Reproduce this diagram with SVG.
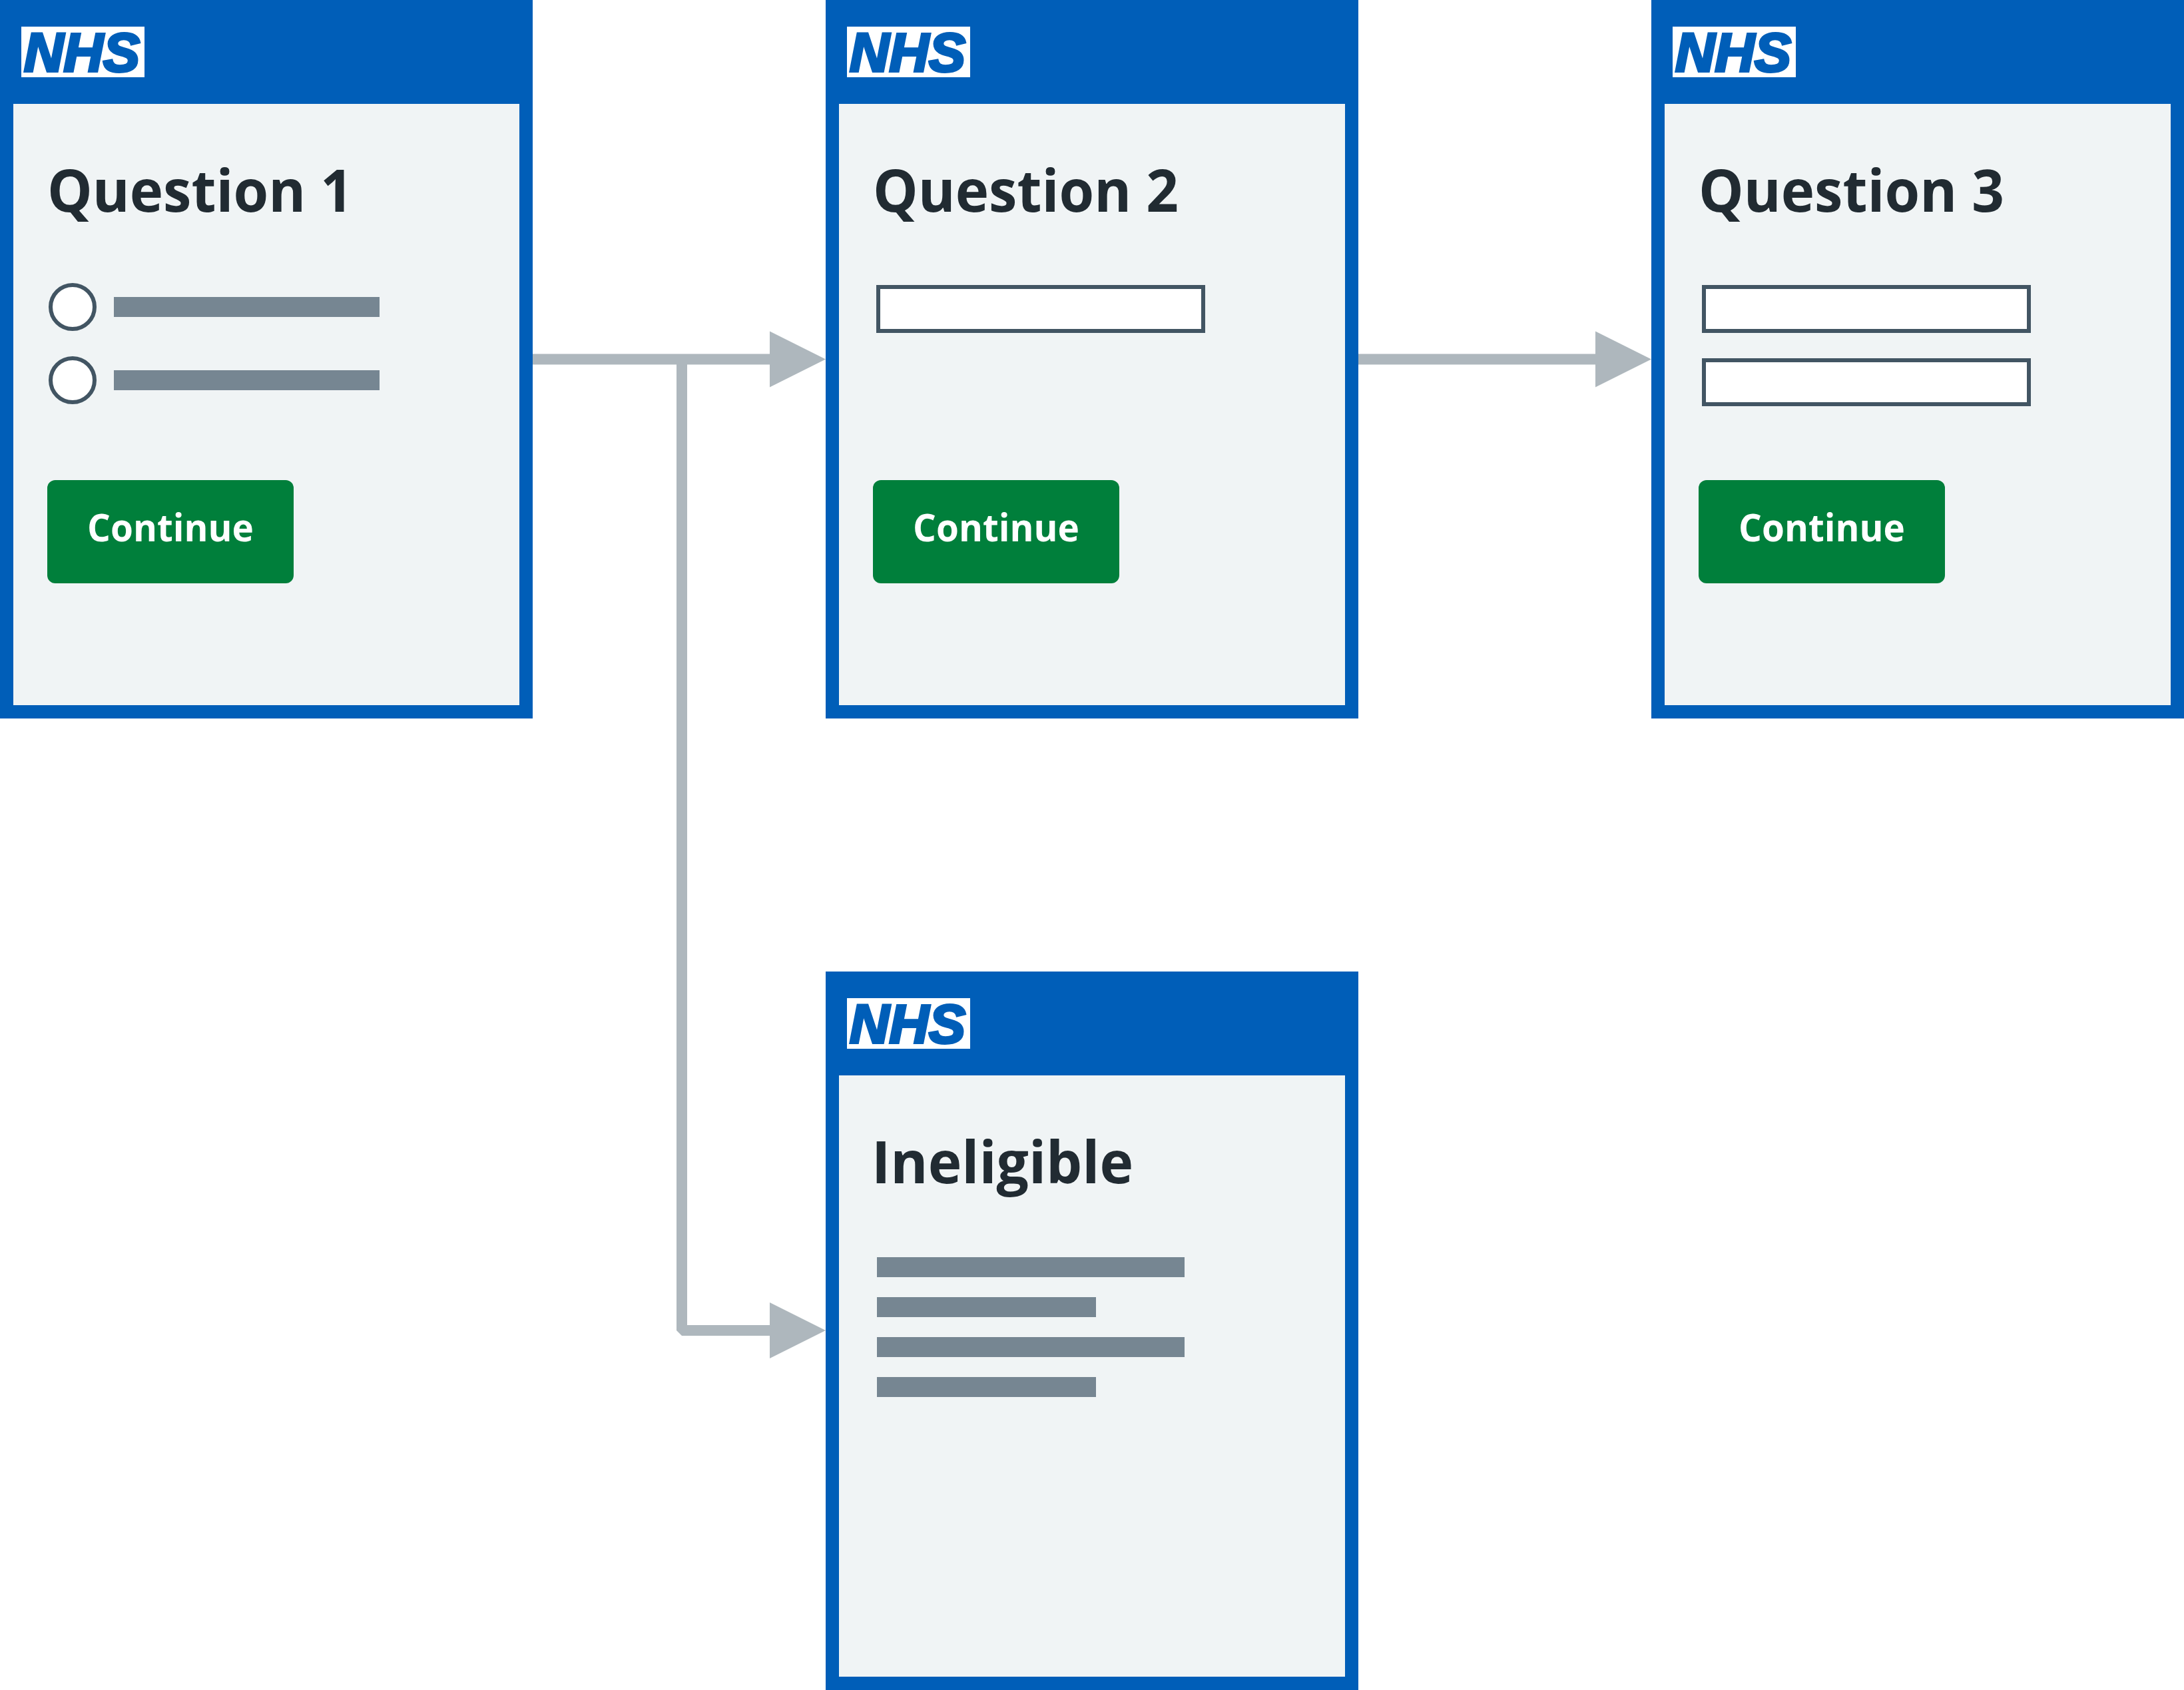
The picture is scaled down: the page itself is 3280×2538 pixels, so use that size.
<svg xmlns="http://www.w3.org/2000/svg" width="3280" height="2538" viewBox="0 0 3280 2538">
<style>
.frame{fill:#005eb8}
.panel{fill:#f0f4f5}
.logo-bg{fill:#fff}
.logo{font-family:"Liberation Sans",Arial,sans-serif;font-weight:700;font-style:italic;font-size:82px;fill:#005eb8;stroke:#005eb8;stroke-width:4px}
.title{font-family:"Open Sans","Noto Sans",sans-serif;font-weight:700;font-size:88px;fill:#212b32}
.btn{fill:#007f3b}
.btn-text{font-family:"Open Sans","Noto Sans",sans-serif;font-weight:700;font-size:58px;fill:#fff}
.bar{fill:#768692}
.radio{fill:#fff;stroke:#425563;stroke-width:6}
.input{fill:#fff;stroke:#425563;stroke-width:6}
.conn{fill:none;stroke:#aeb7bd;stroke-width:16;stroke-linejoin:bevel}
.head{fill:#aeb7bd}
</style>
<rect width="3280" height="2538" fill="#fff"/>
<g id="connectors">
<path class="conn" d="M800 539.5H1160"/>
<polygon class="head" points="1156,497.5 1240,539.5 1156,581.5"/>
<path class="conn" d="M1024 539.5V1998H1160"/>
<polygon class="head" points="1156,1956 1240,1998 1156,2040"/>
<path class="conn" d="M2040 539.5H2400"/>
<polygon class="head" points="2396,497.5 2480,539.5 2396,581.5"/>
</g>
<g id="question-1">
<rect class="frame" x="0" y="0" width="800" height="1079"/>
<rect class="panel" x="20" y="156" width="760" height="903"/>
<rect class="logo-bg" x="32" y="40" width="185" height="76"/>
<text class="logo" x="36" y="107" textLength="174" lengthAdjust="spacingAndGlyphs">NHS</text>
<text class="title" x="71" y="318" textLength="459" lengthAdjust="spacingAndGlyphs">Question 1</text>
<circle class="radio" cx="109" cy="461" r="33"/>
<rect class="bar" x="171" y="446" width="399" height="30"/>
<circle class="radio" cx="109" cy="571" r="33"/>
<rect class="bar" x="171" y="556" width="399" height="30"/>
<rect class="btn" x="71" y="721" width="370" height="155" rx="12"/>
<text class="btn-text" x="131" y="813" textLength="250" lengthAdjust="spacingAndGlyphs">Continue</text>
</g>
<g id="question-2">
<rect class="frame" x="1240" y="0" width="800" height="1079"/>
<rect class="panel" x="1260" y="156" width="760" height="903"/>
<rect class="logo-bg" x="1272" y="40" width="185" height="76"/>
<text class="logo" x="1276" y="107" textLength="174" lengthAdjust="spacingAndGlyphs">NHS</text>
<text class="title" x="1311" y="318" textLength="459" lengthAdjust="spacingAndGlyphs">Question 2</text>
<rect class="input" x="1319" y="431" width="488" height="66"/>
<rect class="btn" x="1311" y="721" width="370" height="155" rx="12"/>
<text class="btn-text" x="1371" y="813" textLength="250" lengthAdjust="spacingAndGlyphs">Continue</text>
</g>
<g id="question-3">
<rect class="frame" x="2480" y="0" width="800" height="1079"/>
<rect class="panel" x="2500" y="156" width="760" height="903"/>
<rect class="logo-bg" x="2512" y="40" width="185" height="76"/>
<text class="logo" x="2516" y="107" textLength="174" lengthAdjust="spacingAndGlyphs">NHS</text>
<text class="title" x="2551" y="318" textLength="459" lengthAdjust="spacingAndGlyphs">Question 3</text>
<rect class="input" x="2559" y="431" width="488" height="66"/>
<rect class="input" x="2559" y="541" width="488" height="66"/>
<rect class="btn" x="2551" y="721" width="370" height="155" rx="12"/>
<text class="btn-text" x="2611" y="813" textLength="250" lengthAdjust="spacingAndGlyphs">Continue</text>
</g>
<g id="ineligible">
<rect class="frame" x="1240" y="1459" width="800" height="1079"/>
<rect class="panel" x="1260" y="1615" width="760" height="903"/>
<rect class="logo-bg" x="1272" y="1499" width="185" height="76"/>
<text class="logo" x="1276" y="1566" textLength="174" lengthAdjust="spacingAndGlyphs">NHS</text>
<text class="title" x="1309" y="1777" textLength="393" lengthAdjust="spacingAndGlyphs">Ineligible</text>
<rect class="bar" x="1317" y="1888" width="462" height="30"/>
<rect class="bar" x="1317" y="1948" width="329" height="30"/>
<rect class="bar" x="1317" y="2008" width="462" height="30"/>
<rect class="bar" x="1317" y="2068" width="329" height="30"/>
</g>
</svg>
